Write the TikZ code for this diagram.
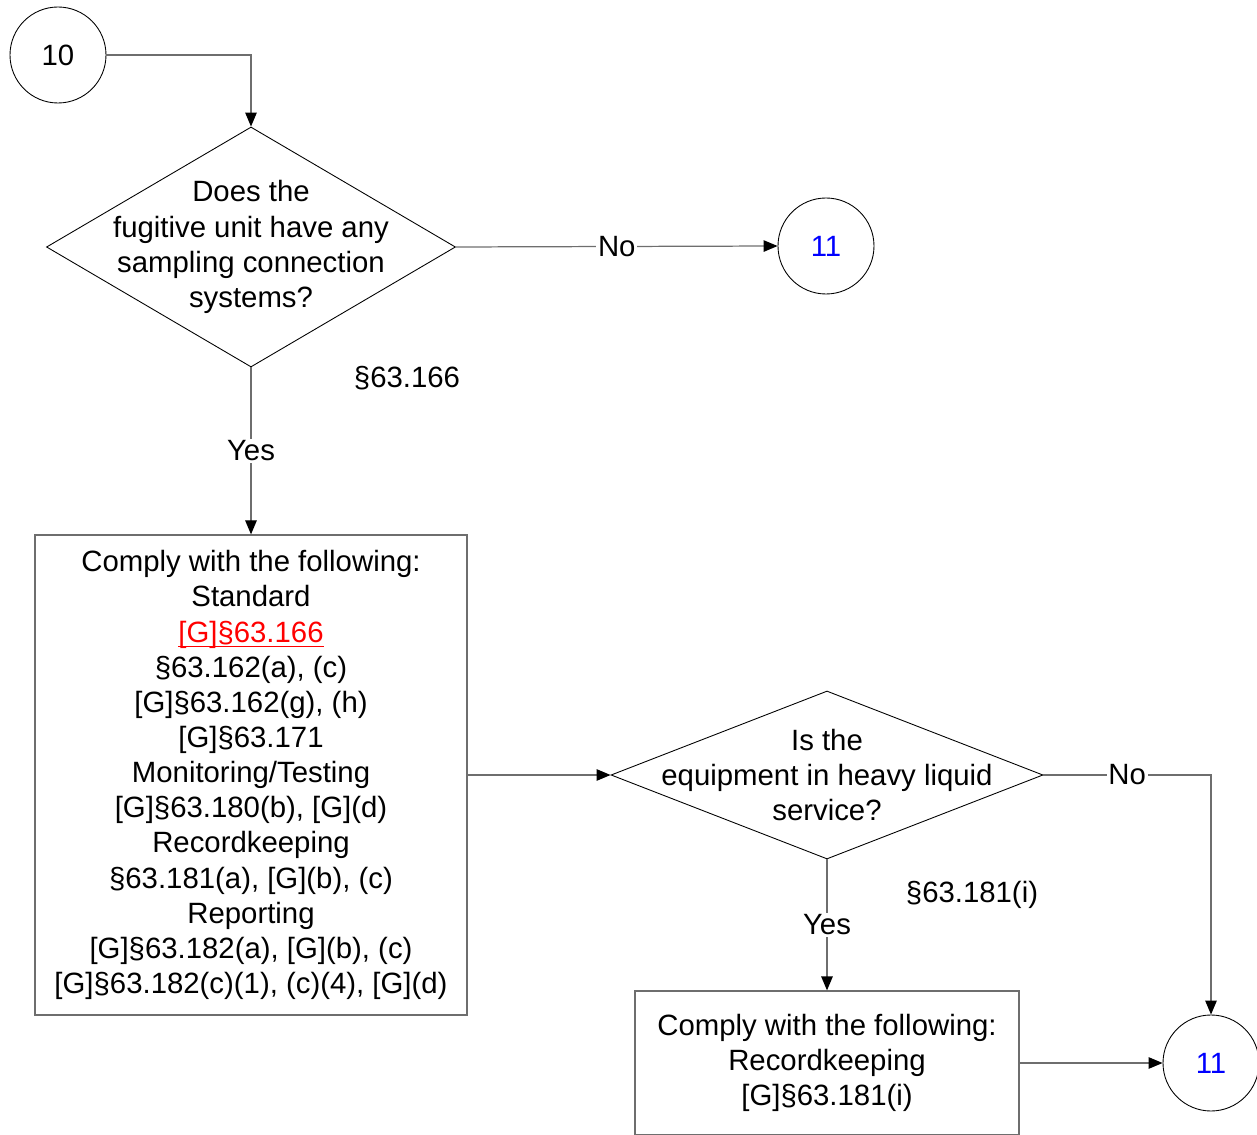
\documentclass[tikz,border=0pt]{standalone}
\usepackage{fontspec}
\setmainfont{Liberation Sans}
\usetikzlibrary{shapes.geometric,arrows.meta}
\definecolor{linegray}{RGB}{110,110,110}
\definecolor{refblue}{RGB}{0,0,255}
\definecolor{refred}{RGB}{255,0,0}
\newcommand\redlink[1]{\textcolor{refred}{\setbox0\hbox{#1}\rlap{\rule[-3pt]{\wd0}{0.9pt}}\box0}}
\tikzset{
  every node/.style={font=\fontsize{16.7}{20.0}\selectfont},
  decision/.style={diamond, draw=black, line width=0.5pt, inner sep=0pt},
  connector/.style={circle, draw=black, line width=0.5pt, minimum size=1.92cm, inner sep=0pt},
  process/.style={rectangle, draw=linegray, line width=0.7pt, align=center, inner sep=0pt},
  flow/.style={draw=linegray, line width=0.7pt, -{Triangle[length=0.28cm,width=0.23cm,color=black]}},
  answer/.style={fill=white, inner sep=1pt},
}
\begin{document}
\begin{tikzpicture}[x=0.2mm, y=-0.2mm]
\useasboundingbox (0,0) rectangle (1257,1135);
% off-page connectors
\node[connector] (c10) at (58,55) {10};
\node[connector, text=refblue] (c11a) at (826,246) {11};
\node[connector, text=refblue] (c11b) at (1211,1063) {11};
% decisions
\node[decision, minimum width=8.18cm, minimum height=4.8cm,
  label={[align=center]center:Does the\\fugitive unit have any\\sampling connection\\systems?}] (q1) at (251,247) {};
\node[decision, minimum width=8.64cm, minimum height=3.36cm,
  label={[align=center]center:Is the\\equipment in heavy liquid\\service?}] (q2) at (827,775) {};
% actions
\node[process, minimum width=8.64cm, minimum height=9.6cm] (box1) at (251,775)
  {Comply with the following:\\Standard\\\redlink{[G]§63.166}\\§63.162(a), (c)\\{}[G]§63.162(g), (h)\\{}[G]§63.171\\Monitoring/Testing\\{}[G]§63.180(b), [G](d)\\Recordkeeping\\§63.181(a), [G](b), (c)\\Reporting\\{}[G]§63.182(a), [G](b), (c)\\{}[G]§63.182(c)(1), (c)(4), [G](d)};
\node[process, minimum width=7.68cm, minimum height=2.88cm] (box2) at (827,1063)
  {Comply with the following:\\Recordkeeping\\{}[G]§63.181(i)};
% rule references
\node (ref1) at (407,378) {§63.166};
\node (ref2) at (972,895) {§63.181(i)};
% flow lines
\draw[flow] (c10.east) -| (q1.north);
\draw[flow] (q1.east) -- node[answer] (no1) {No} (c11a.west);
\draw[flow] (q1.south) -- node[answer] (yes1) {Yes} (box1.north);
\draw[flow] (box1.east) -- (q2.west);
\draw[flow] (q2.east) -| node[answer, pos=0.25] (no2) {No} (c11b.north);
\draw[flow] (q2.south) -- node[answer] (yes2) {Yes} (box2.north);
\draw[flow] (box2.east) -- (c11b.west);
\end{tikzpicture}
\end{document}
